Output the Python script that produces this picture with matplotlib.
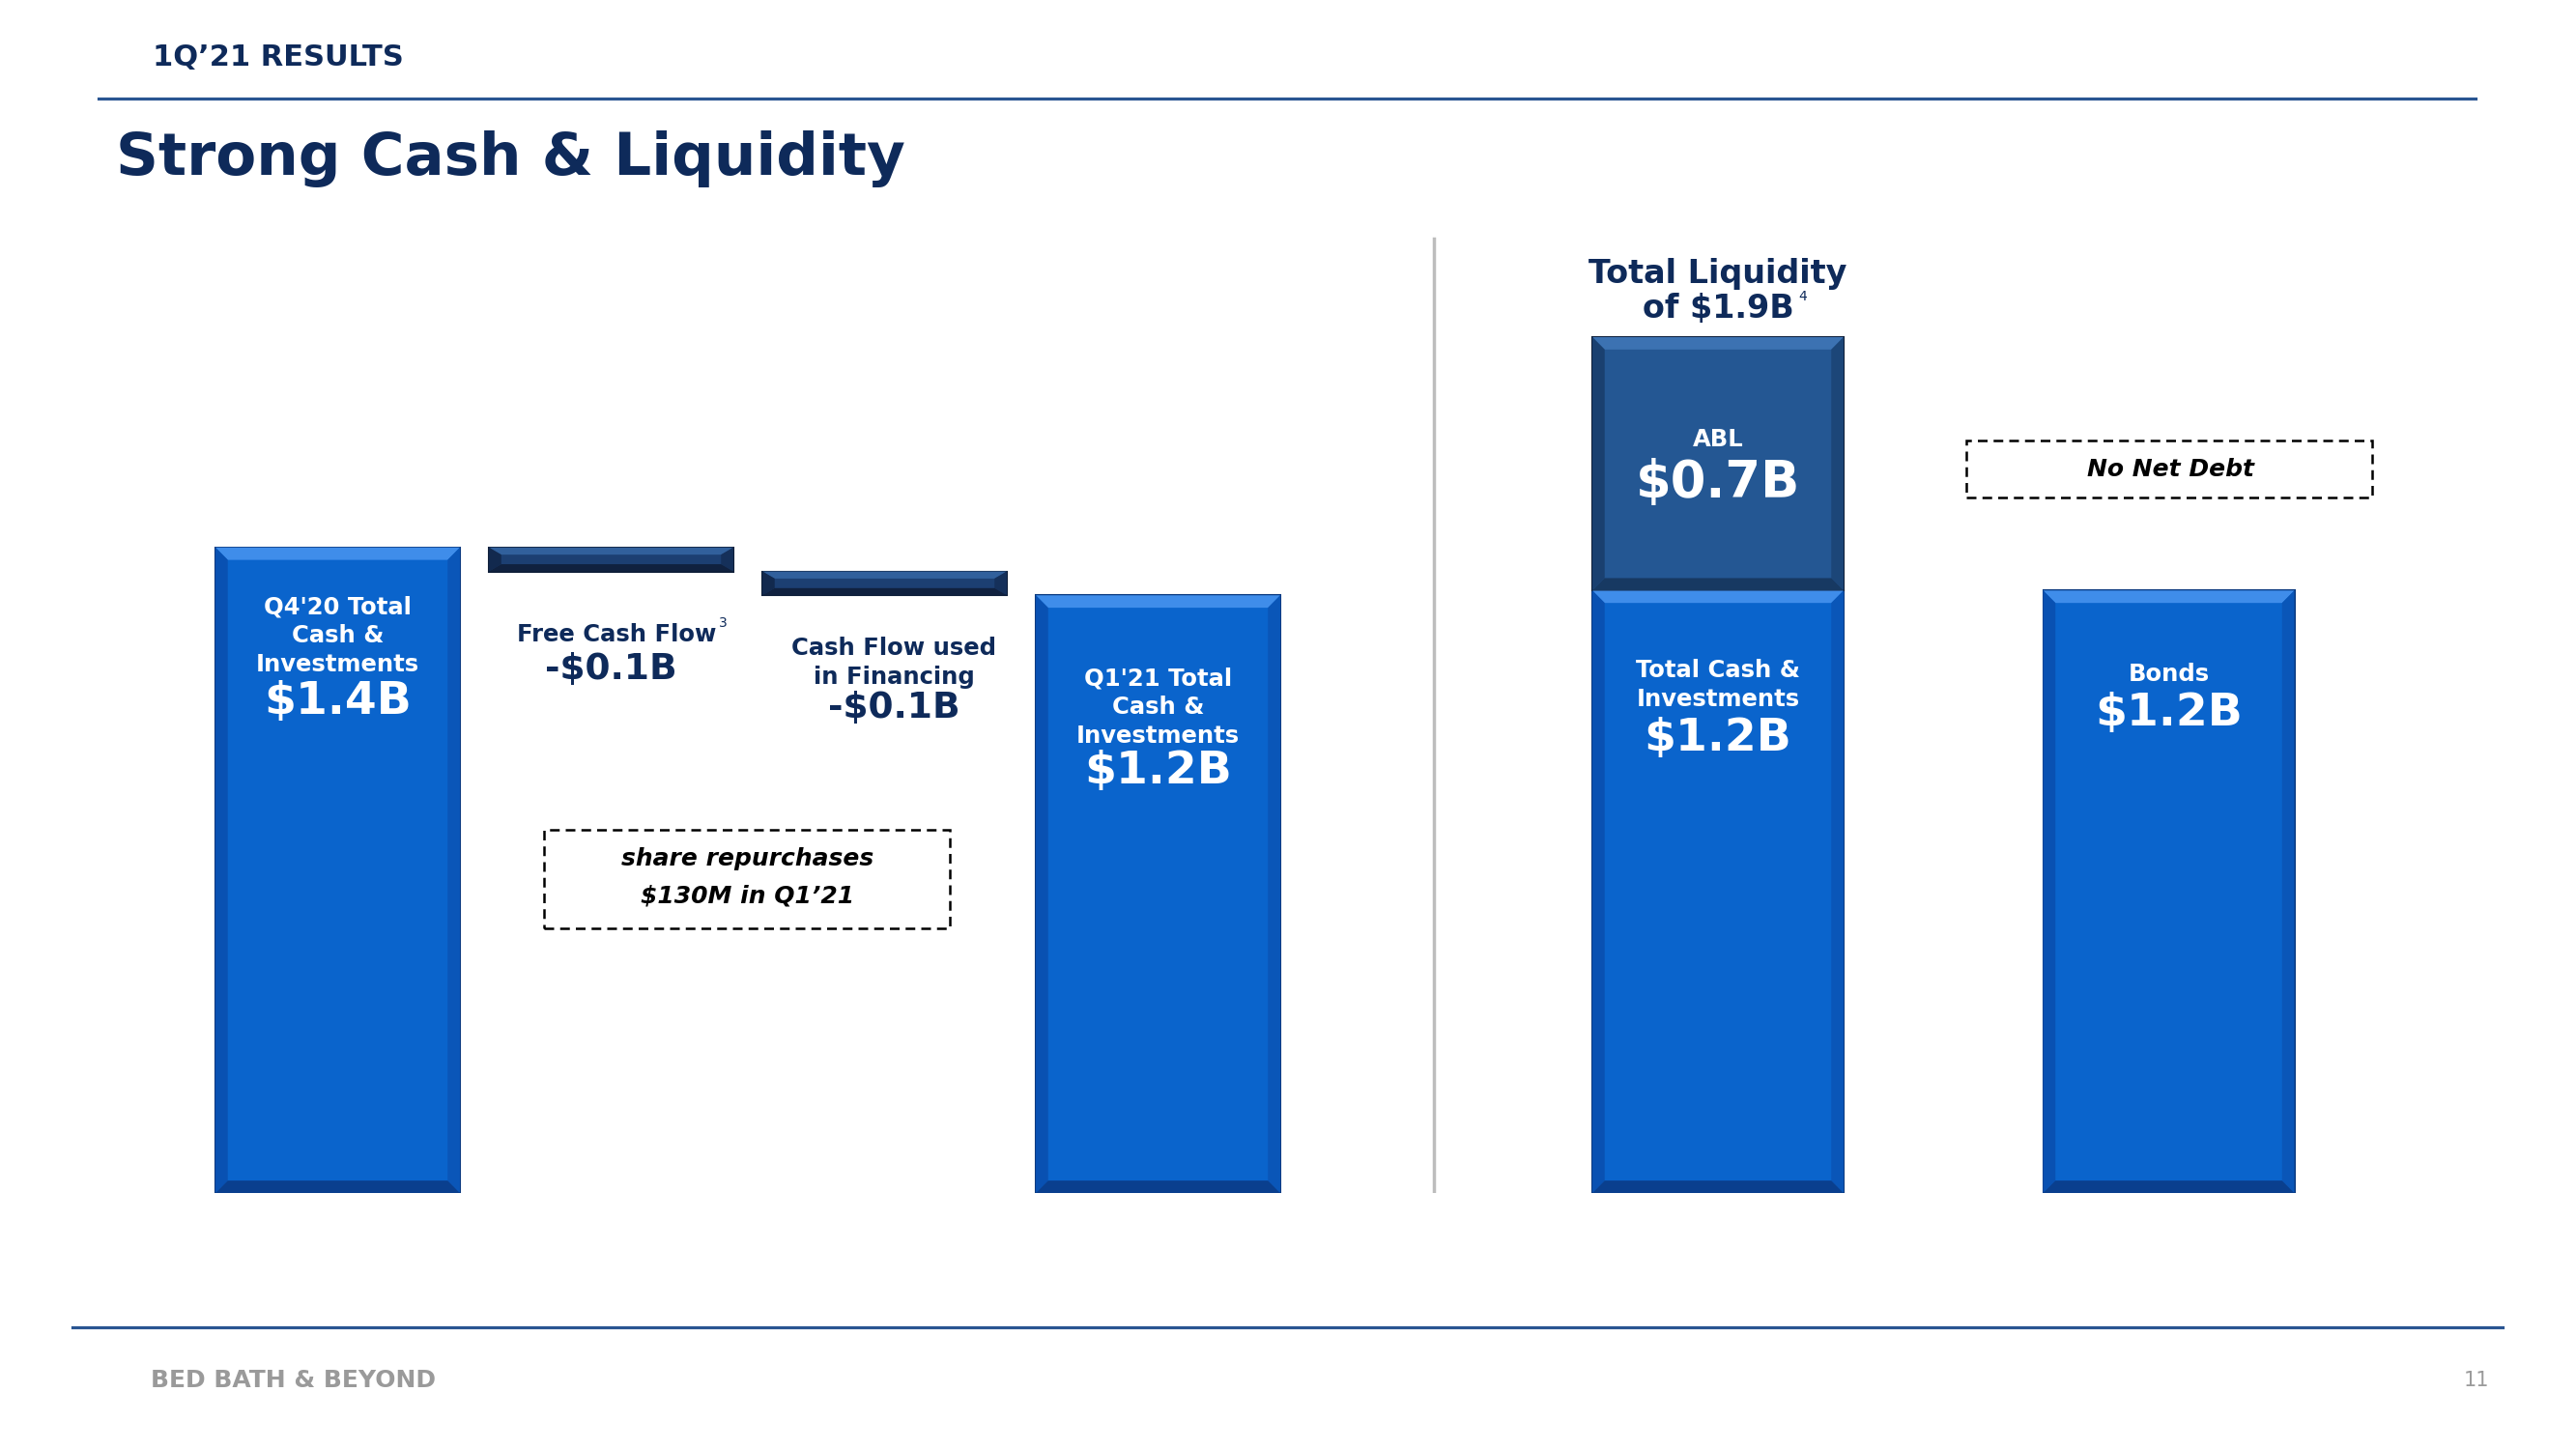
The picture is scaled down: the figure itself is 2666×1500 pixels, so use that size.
import matplotlib
matplotlib.use('Agg')
import matplotlib.pyplot as plt
from matplotlib.patches import Polygon, Rectangle
from matplotlib.lines import Line2D

# Data ($B, heights as drawn on the slide)
bridge_labels = ["Q4'20 Total\nCash &\nInvestments", "Free Cash Flow", "Cash Flow used\nin Financing", "Q1'21 Total\nCash &\nInvestments"]
bridge_values = [1.35, -0.05, -0.05, 1.25]
bridge_text = ["$1.4B", "-$0.1B", "-$0.1B", "$1.2B"]

liq_cash = 1.26
liq_abl = 0.53      # slide draws the $0.7B ABL block short
bonds = 1.26
liq_text = ["$1.2B", "$0.7B", "$1.2B"]

# Constants
W, H = 2666, 1500
px_per_b = 495.0
base_px = 1235
unit_px = 283.0
NAVY = '#0E2A5A'
RULE = '#2A5592'
FONT = ['DejaVu Sans']
LBL = 17.5
LS = 1.3

BLUE = dict(face='#0A64CC', light='#3F8DEA', left='#0951B2', right='#0A56B8', bottom='#0A3F8E', edge='#0B3A80')
DARK = dict(face='#1C3F72', light='#31609C', left='#12294E', right='#15305A', bottom='#10213F', edge='#0E1E38')
ABL = dict(face='#245793', light='#3C72B2', left='#1A4070', right='#1C4678', bottom='#173962', edge='#0E1E38')

fig = plt.figure(figsize=(W/100, H/100), dpi=100)
fig.patch.set_facecolor('white')

ax = fig.add_axes([0, (H-base_px)/H, 1, 1001/H])
ax.set_xlim(-349.5/unit_px, (W-349.5)/unit_px)
ax.set_ylim(0, 1001/px_per_b)
ax.axis('off')


def bevel(ax, x, bottom, height, width, c):
    bars = ax.bar(x, height, width, bottom=bottom, color=c['face'], edgecolor=c['edge'], linewidth=1.5, zorder=2)
    x0, x1 = x-width/2, x+width/2
    y0, y1 = bottom, bottom+height
    bx = 0.045
    by = min(0.026, abs(height)*0.3)
    pieces = [
        ([(x0, y1), (x1, y1), (x1-bx, y1-by), (x0+bx, y1-by)], c['light']),
        ([(x0, y0), (x0, y1), (x0+bx, y1-by), (x0+bx, y0+by)], c['left']),
        ([(x1, y0), (x1, y1), (x1-bx, y1-by), (x1-bx, y0+by)], c['right']),
        ([(x0, y0), (x1, y0), (x1-bx, y0+by), (x0+bx, y0+by)], c['bottom']),
    ]
    for pts, col in pieces:
        ax.add_patch(Polygon(pts, closed=True, fc=col, ec='none', zorder=3))
    return bars


# waterfall on the left
pos = [0, 1, 2, 3]
w_left = 253/unit_px
running = 0
for i, v in enumerate(bridge_values):
    if i == 0 or i == len(bridge_values)-1:
        bevel(ax, pos[i], 0, v, w_left, BLUE)
        running = v
    else:
        bevel(ax, pos[i], running+v, -v, w_left, DARK)
        running += v

# liquidity on the right
rpos = [(1778-349.5)/unit_px, (2244.5-349.5)/unit_px]
w_right = 260/unit_px
bevel(ax, rpos[0], 0, liq_cash, w_right, BLUE)
bevel(ax, rpos[0], liq_cash, liq_abl, w_right, ABL)
bevel(ax, rpos[1], 0, bonds, w_right, BLUE)


def ypx(p):
    return (base_px-p)/px_per_b


def xpx(p):
    return (p-349.5)/unit_px


white = dict(color='white', ha='center', va='center', family=FONT, weight='bold', zorder=5)
dark = dict(color=NAVY, ha='center', va='center', family=FONT, weight='bold', zorder=5)
small = dict(fontsize=10, color=NAVY, ha='left', va='center', family=FONT, zorder=5)

# left labels
ax.text(pos[0], ypx(658), bridge_labels[0], fontsize=LBL, linespacing=LS, **white)
ax.text(pos[0], ypx(726), bridge_text[0], fontsize=34, **white)
ax.text(xpx(741), ypx(657), bridge_labels[1], fontsize=LBL, **{**dark, 'ha': 'right'})
ax.text(xpx(744), ypx(645), '3', **small)
ax.text(pos[1], ypx(693), bridge_text[1], fontsize=27, **dark)
ax.text(xpx(925), ypx(686), bridge_labels[2], fontsize=LBL, linespacing=LS, **dark)
ax.text(xpx(925), ypx(733), bridge_text[2], fontsize=27, **dark)
ax.text(pos[3], ypx(732), bridge_labels[3], fontsize=LBL, linespacing=LS, **white)
ax.text(pos[3], ypx(799), bridge_text[3], fontsize=34, **white)

# right labels
ax.text(rpos[0], ypx(283), 'Total Liquidity', fontsize=24, **dark)
ax.text(xpx(1857), ypx(319), 'of $1.9B', fontsize=24, **{**dark, 'ha': 'right'})
ax.text(xpx(1861), ypx(307), '4', **small)
ax.text(rpos[0], ypx(455), 'ABL', fontsize=LBL, **white)
ax.text(rpos[0], ypx(500), liq_text[1], fontsize=38, **white)
ax.text(rpos[0], ypx(709), 'Total Cash &\nInvestments', fontsize=LBL, linespacing=LS, **white)
ax.text(rpos[0], ypx(764), liq_text[0], fontsize=34, **white)
ax.text(rpos[1], ypx(698), 'Bonds', fontsize=LBL, **white)
ax.text(rpos[1], ypx(739), liq_text[2], fontsize=34, **white)

# dashed callouts
box = dict(fc='white', ec='black', lw=1.8, ls=(0, (4, 2.5)), zorder=4)
note = dict(fontsize=18, color='black', ha='center', va='center', family=FONT, weight='bold', style='italic', zorder=5)
ax.add_patch(Rectangle((xpx(563), ypx(961)), (983-563)/unit_px, (961-859)/px_per_b, **box))
ax.text(xpx(774), ypx(889), 'share repurchases', **note)
ax.text(xpx(774), ypx(928), '$130M in Q1\u201921', **note)
ax.add_patch(Rectangle((xpx(2035), ypx(515)), (2455-2035)/unit_px, (515-456)/px_per_b, **box))
ax.text(xpx(2246), ypx(486), 'No Net Debt', **note)

# divider
ax.plot([xpx(1484), xpx(1484)], [0, ypx(247)], color='#BDBDBD', lw=2.5, zorder=1)

# header / footer
fig.text(158/W, 1-60/H, '1Q\u201921 RESULTS', fontsize=22, color=NAVY, family=FONT, weight='bold', va='center')
fig.text(120/W, 1-164/H, 'Strong Cash & Liquidity', fontsize=44, color=NAVY, family=FONT, weight='bold', va='center')
fig.add_artist(Line2D([102/W, 2562/W], [1-102/H, 1-102/H], color=RULE, lw=2.3))
fig.add_artist(Line2D([75/W, 2590/W], [1-1374/H, 1-1374/H], color=RULE, lw=2.3))
fig.text(156/W, 1-1429/H, 'BED BATH & BEYOND', fontsize=18, color='#9A9A9A', family=FONT, weight='bold', va='center')
fig.text(2576/W, 1-1429/H, '11', fontsize=15, color='#9A9A9A', family=FONT, ha='right', va='center')

fig.savefig('out.png', dpi=100, facecolor='white')
